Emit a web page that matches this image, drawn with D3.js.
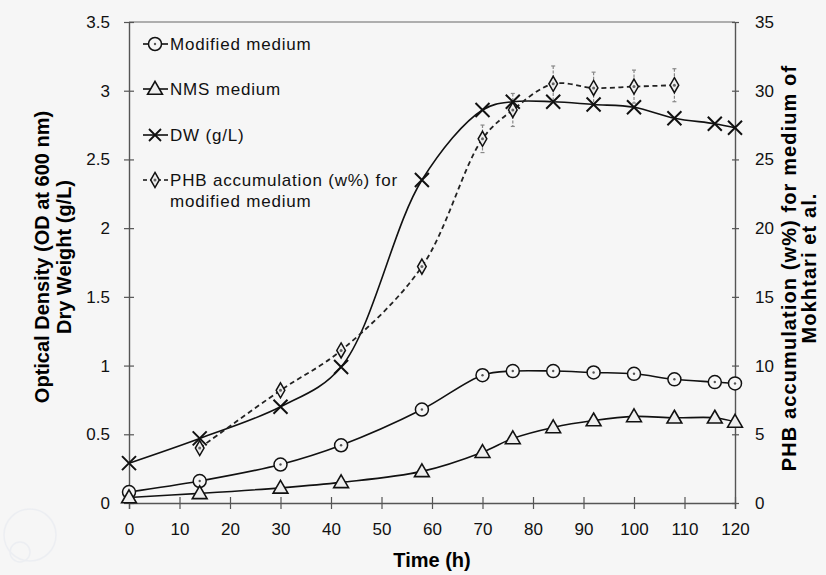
<!DOCTYPE html>
<html>
<head>
<meta charset="utf-8">
<script src="https://cdn.jsdelivr.net/npm/d3@7"></script>
<style>
  body { margin: 0; background: #f6f6f6; }
  svg { display: block; font-family: "Liberation Sans", Arial, sans-serif; }
</style>
</head>
<body>
<svg id="chart" width="826" height="575"></svg>
<script>
// sampling times (h) and series
const time = [0, 14, 30, 42, 58, 70, 76, 84, 92, 100, 108, 116, 120];
const modifiedOD = [0.08, 0.16, 0.28, 0.42, 0.68, 0.93, 0.96, 0.96, 0.95, 0.94, 0.90, 0.88, 0.87];
const nmsOD = [0.04, 0.07, 0.11, 0.15, 0.23, 0.37, 0.47, 0.55, 0.60, 0.63, 0.62, 0.62, 0.59];
const dryWeight = [0.29, 0.47, 0.70, 0.99, 2.35, 2.86, 2.92, 2.92, 2.90, 2.88, 2.80, 2.76, 2.73];

const phbTime = [14, 30, 42, 58, 70, 76, 84, 92, 100, 108];
const phb = [4.0, 8.2, 11.1, 17.2, 26.5, 28.6, 30.5, 30.2, 30.3, 30.4];
const phbErr = [0, 0, 0, 0, 1.0, 1.2, 1.3, 1.15, 1.2, 1.2];

const xTicks = [0, 10, 20, 30, 40, 50, 60, 70, 80, 90, 100, 110, 120];
const leftTicks = [0, 0.5, 1, 1.5, 2, 2.5, 3, 3.5];
const rightTicks = [0, 5, 10, 15, 20, 25, 30, 35];

const legendLabels = [
  ['Modified medium'],
  ['NMS medium'],
  ['DW (g/L)'],
  ['PHB accumulation (w%) for', 'modified medium']
];

const svg = d3.select('#chart');

const x = d3.scaleLinear().domain([0, 120]).range([129, 735]);
const yL = d3.scaleLinear().domain([0, 3.5]).range([503, 22]);
const yR = d3.scaleLinear().domain([0, 35]).range([503, 22]);

// faint watermark rings in the corner
const wm = svg.append('g').attr('opacity', 0.5);
wm.append('circle').attr('cx', 30).attr('cy', 535).attr('r', 26)
  .attr('fill', 'none').attr('stroke', '#e4e8f0').attr('stroke-width', 1.5);
wm.append('circle').attr('cx', 20).attr('cy', 552).attr('r', 10)
  .attr('fill', 'none').attr('stroke', '#e4e8f0').attr('stroke-width', 1.5);

// frame line on top
svg.append('line')
  .attr('x1', x(0)).attr('x2', x(120))
  .attr('y1', yL(3.5)).attr('y2', yL(3.5))
  .attr('stroke', '#666').attr('stroke-width', 1.2);

const styleAxis = (g) => {
  g.select('.domain').attr('stroke', '#555').attr('stroke-width', 1.4);
  g.selectAll('.tick line').attr('stroke', '#555').attr('stroke-width', 1.2);
  g.selectAll('.tick text').attr('fill', '#111').attr('font-size', 17)
    .attr('font-family', '"Liberation Sans", Arial, sans-serif');
};

// x axis, ticks crossing the line
const gx = svg.append('g')
  .attr('transform', `translate(0,${yL(0)})`)
  .call(d3.axisBottom(x).tickValues(xTicks).tickSizeOuter(0).tickSize(6).tickPadding(14));
styleAxis(gx);
gx.selectAll('.tick line').attr('y1', -6).attr('y2', 6);

// left axis
const gl = svg.append('g')
  .attr('transform', `translate(${x(0)},0)`)
  .call(d3.axisLeft(yL).tickValues(leftTicks).tickFormat(d3.format('')).tickSizeOuter(0).tickPadding(13));
styleAxis(gl);
gl.selectAll('.tick line').attr('x1', -5).attr('x2', 5);

// right axis
const gr = svg.append('g')
  .attr('transform', `translate(${x(120)},0)`)
  .call(d3.axisRight(yR).tickValues(rightTicks).tickSizeOuter(0).tickPadding(14));
styleAxis(gr);
gr.selectAll('.tick line').attr('x1', -3).attr('x2', 4);

// axis titles
svg.append('text')
  .attr('x', 432).attr('y', 567)
  .attr('text-anchor', 'middle')
  .attr('font-size', 20).attr('font-weight', 'bold')
  .text('Time (h)');

const leftTitle = svg.append('text')
  .attr('transform', 'translate(42,257) rotate(-90)')
  .attr('text-anchor', 'middle')
  .attr('font-size', 20).attr('font-weight', 'bold');
leftTitle.append('tspan').attr('x', 0).attr('dy', 7).text('Optical Density (OD at 600 nm)');
leftTitle.append('tspan').attr('x', 0).attr('dy', 22).text('Dry Weight (g/L)');

const rightTitle = svg.append('text')
  .attr('transform', 'translate(789,268) rotate(-90)')
  .attr('text-anchor', 'middle')
  .attr('font-size', 20).attr('font-weight', 'bold')
  .attr('letter-spacing', 1.1);
rightTitle.append('tspan').attr('x', 0).attr('dy', 7).text('PHB accumulation (w%) for medium of');
rightTitle.append('tspan').attr('x', 0).attr('dy', 20).text('Mokhtari et al.');

// markers
const drawCircle = (g, cx, cy) => {
  g.append('circle').attr('cx', cx).attr('cy', cy).attr('r', 6.5)
    .attr('fill', '#f6f6f6').attr('stroke', '#111').attr('stroke-width', 1.5);
  g.append('circle').attr('cx', cx).attr('cy', cy).attr('r', 1.2).attr('fill', '#555');
};
const triangle = d3.symbol().type(d3.symbolTriangle).size(95);
const drawTriangle = (g, cx, cy) => {
  g.append('path').attr('d', triangle())
    .attr('transform', `translate(${cx},${cy + 1})`)
    .attr('fill', '#eee').attr('stroke', '#111').attr('stroke-width', 1.6);
};
const drawCross = (g, cx, cy) => {
  const s = 7;
  g.append('path')
    .attr('d', `M${cx - s},${cy - s}L${cx + s},${cy + s}M${cx - s},${cy + s}L${cx + s},${cy - s}`)
    .attr('stroke', '#111').attr('stroke-width', 2);
};
const diamond = d3.symbol().type(d3.symbolDiamond).size(65);
const drawDiamond = (g, cx, cy) => {
  g.append('path').attr('d', diamond())
    .attr('transform', `translate(${cx},${cy})`)
    .attr('fill', '#eee').attr('stroke', '#111').attr('stroke-width', 1.5);
  g.append('circle').attr('cx', cx).attr('cy', cy).attr('r', 1.5).attr('fill', '#666');
};

const curve = d3.curveCatmullRom.alpha(0.5);

const series = [
  { values: modifiedOD, marker: drawCircle },
  { values: nmsOD, marker: drawTriangle },
  { values: dryWeight, marker: drawCross }
];

series.forEach(s => {
  const pts = time.map((t, i) => [x(t), yL(s.values[i])]);
  svg.append('path')
    .attr('d', d3.line().curve(curve)(pts))
    .attr('fill', 'none').attr('stroke', '#111').attr('stroke-width', 1.6);
});

// PHB series, dashed, on the right axis
const phbPts = phbTime.map((t, i) => [x(t), yR(phb[i])]);
svg.append('path')
  .attr('d', d3.line().curve(curve)(phbPts))
  .attr('fill', 'none').attr('stroke', '#222').attr('stroke-width', 1.8)
  .attr('stroke-dasharray', '5,3.5');

// error bars
const eb = svg.append('g').attr('stroke', '#888').attr('stroke-width', 1.2);
phbTime.forEach((t, i) => {
  if (!phbErr[i]) return;
  const cx = x(t);
  const y1 = yR(phb[i] + phbErr[i]);
  const y2 = yR(phb[i] - phbErr[i]);
  eb.append('line').attr('x1', cx).attr('x2', cx).attr('y1', y1).attr('y2', y2)
    .attr('stroke-dasharray', '3,1.5');
  eb.append('line').attr('x1', cx - 2).attr('x2', cx + 2).attr('y1', y1).attr('y2', y1);
  eb.append('line').attr('x1', cx - 2).attr('x2', cx + 2).attr('y1', y2).attr('y2', y2);
});

const markers = svg.append('g');
series.forEach(s => {
  time.forEach((t, i) => s.marker(markers, x(t), yL(s.values[i])));
});
phbTime.forEach((t, i) => drawDiamond(markers, x(t), yR(phb[i])));

// legend
const legendRows = [44, 89, 135, 180];
const legendMarkers = [drawCircle, drawTriangle, drawCross, drawDiamond];
const lg = svg.append('g');
legendRows.forEach((ly, i) => {
  lg.append('line').attr('x1', 143).attr('x2', 168).attr('y1', ly).attr('y2', ly)
    .attr('stroke', '#111').attr('stroke-width', 1.6)
    .attr('stroke-dasharray', i === 3 ? '4,3' : null);
  if (i === 2) {
    const s = 6;
    lg.append('path')
      .attr('d', `M${155 - s},${ly - s}L${155 + s},${ly + s}M${155 - s},${ly + s}L${155 + s},${ly - s}`)
      .attr('stroke', '#111').attr('stroke-width', 1.8);
  } else {
    legendMarkers[i](lg, 155, ly);
  }
  legendLabels[i].forEach((t, j) => {
    lg.append('text')
      .attr('x', 170).attr('y', ly + 6 + j * 21)
      .attr('font-size', 17).attr('letter-spacing', 0.8)
      .attr('fill', '#111')
      .text(t);
  });
});
</script>
</body>
</html>
